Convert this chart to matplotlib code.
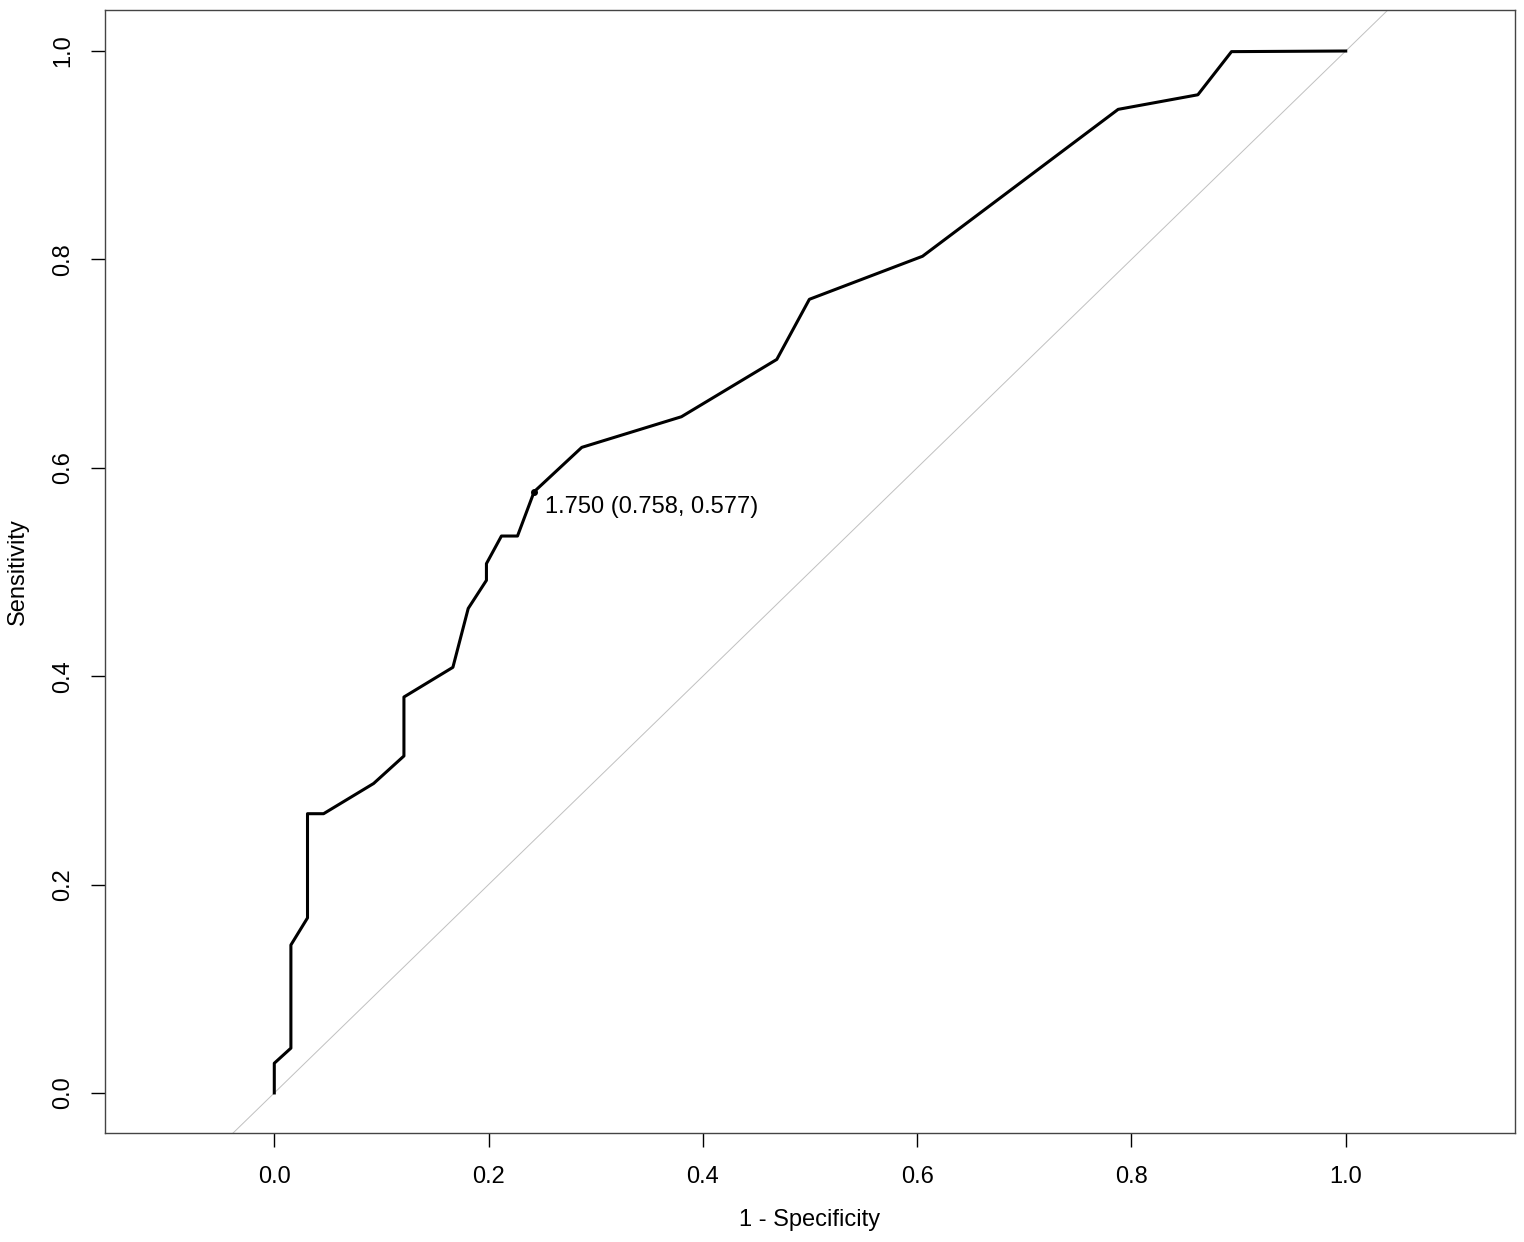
import matplotlib
matplotlib.use("Agg")
import matplotlib.pyplot as plt

plt.rcParams['font.family'] = ['Liberation Sans', 'DejaVu Sans']

# ROC curve points (1 - specificity, sensitivity)
fpr = [0.0, 0.0, 0.0155, 0.0155, 0.031, 0.031, 0.046, 0.0927, 0.121, 0.121,
       0.1667, 0.181, 0.198, 0.198, 0.212, 0.227, 0.2425, 0.287, 0.380,
       0.469, 0.4994, 0.605, 0.7876, 0.862, 0.8934, 1.0]
tpr = [0.0, 0.0285, 0.043, 0.142, 0.168, 0.268, 0.268, 0.297, 0.3234, 0.380,
       0.4085, 0.465, 0.492, 0.508, 0.5345, 0.5345, 0.577, 0.6196, 0.649,
       0.704, 0.7617, 0.803, 0.944, 0.958, 0.9994, 1.0]

best_x = 0.2425
best_y = 0.577
best_label = "1.750 (0.758, 0.577)"

fig = plt.figure(figsize=(15.24, 12.42), dpi=100)
ax = fig.add_axes([0.0689, 0.0878, 0.9252, 0.9041])

# diagonal reference line
ax.axline((0, 0), (1, 1), color='#c0c0c0', linewidth=0.7, zorder=1)

ax.plot(fpr, tpr, color='black', linewidth=2.2, zorder=2)
ax.plot([best_x], [best_y], 'o', color='black', markersize=4, zorder=3)
ax.annotate(best_label, (best_x, best_y), xytext=(11, -15), textcoords='offset pixels',
            ha='left', va='center', fontsize=17)

ax.set_xlim(-0.158, 1.158)
ax.set_ylim(-0.0384, 1.0393)
ticks = [0.0, 0.2, 0.4, 0.6, 0.8, 1.0]
ax.set_xticks(ticks)
ax.set_yticks(ticks)
ax.set_xticklabels(['%.1f' % t for t in ticks])
ax.set_yticklabels(['%.1f' % t for t in ticks], rotation=90, va='center')
ax.tick_params(axis='both', direction='out', length=10, width=1, labelsize=17)
ax.tick_params(axis='x', pad=14)
ax.tick_params(axis='y', pad=12)

for s in ax.spines.values():
    s.set_linewidth(1)
    s.set_color('#444444')

ax.set_xlabel('1 - Specificity', fontsize=17, labelpad=15)
ax.set_ylabel('Sensitivity', fontsize=17, labelpad=17)

fig.savefig('out.png', dpi=100)
